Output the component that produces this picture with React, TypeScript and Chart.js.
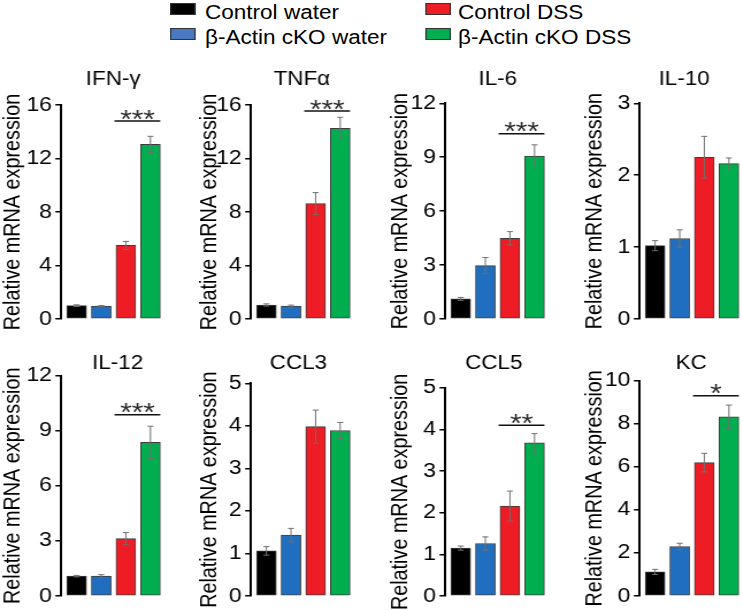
import React, { useEffect, useRef } from "react";
import { Chart, registerables } from "chart.js";
Chart.register(...registerables);

// ---------------- data ----------------
const groups = ["Control water", "β-Actin cKO water", "Control DSS", "β-Actin cKO DSS"];
const genes = ["IFN-γ", "TNFα", "IL-6", "IL-10", "IL-12", "CCL3", "CCL5", "KC"];
const yAxisTitle = "Relative mRNA expression";

const ifngMean = [1.0, 0.97, 5.5, 13.06];
const ifngErr = [0.06, 0.04, 0.3, 0.6];
const tnfaMean = [1.05, 0.96, 8.63, 14.26];
const tnfaErr = [0.08, 0.08, 0.82, 0.82];
const il6Mean = [1.12, 2.97, 4.49, 9.06];
const il6Err = [0.08, 0.45, 0.37, 0.63];
const il10Mean = [1.02, 1.12, 2.25, 2.16];
const il10Err = [0.07, 0.12, 0.29, 0.08];
const il12Mean = [1.08, 1.08, 3.12, 8.36];
const il12Err = [0.04, 0.08, 0.33, 0.88];
const ccl3Mean = [1.06, 1.43, 3.98, 3.89];
const ccl3Err = [0.1, 0.16, 0.39, 0.19];
const ccl5Mean = [1.15, 1.26, 2.16, 3.68];
const ccl5Err = [0.05, 0.16, 0.36, 0.22];
const kcMean = [1.12, 2.3, 6.2, 8.32];
const kcErr = [0.12, 0.15, 0.43, 0.55];

const axisMax = [16, 16, 12, 3, 12, 5, 5, 10];
const axisStep = [4, 4, 3, 1, 3, 1, 1, 2];
const sigLevel: (number | null)[] = [14.8, 15.55, 10.3, null, 9.87, null, 4.1, 9.3];
const sigMarks = ["***", "***", "***", "", "***", "", "**", "*"];

const barColors = ["#000000", "#1f6ebf", "#ee1d25", "#00ae4f"];
const legendColors = ["#000000", "#4a78c2", "#ee1d25", "#00ae4f"];

const means = [ifngMean, tnfaMean, il6Mean, il10Mean, il12Mean, ccl3Mean, ccl5Mean, kcMean];
const errs = [ifngErr, tnfaErr, il6Err, il10Err, il12Err, ccl3Err, ccl5Err, kcErr];

// ---------------- layout ----------------
const S = 1.15; // horizontal stretch of the whole figure
const FONT = '"Liberation Sans", Arial, Helvetica, sans-serif';
const PITCH = 24.6;
const FIRST = 15.5;
const BARW = 19.7;
const AXW = 60;
const AREAW = 101.5;
const BPAD = 11.5;
const colAxis = [61.3, 250.8, 445.5, 639.3];
const rowCanvasTop = [60, 335];
const rowZero = [321.3, 598.3];
const rowTitleBase = [85, 369];
const plotTop = [105, 105, 103.3, 103.3, 375.5, 383.3, 387.8, 380.8];
const yTitleOff = [48, 41, 44, 45];
const titleDx = [1.5, 0.5, 2, -6, 6, -3, -2, 1];

function Panel({ p }: { p: number }) {
  const ref = useRef<HTMLCanvasElement>(null);
  const col = p % 4;
  const row = Math.floor(p / 4);
  const leftF = colAxis[col] - AXW;
  const wPre = Math.round((AXW + AREAW) / S);
  const top = rowCanvasTop[row];
  const h = Math.round(rowZero[row] + BPAD - top);

  useEffect(() => {
    if (!ref.current) return;
    const mean = means[p];
    const err = errs[p];
    const sig = sigLevel[p];
    const marks = sigMarks[p];
    const axPre = AXW / S;
    const areaPre = wPre - axPre;
    const xmin = -FIRST / PITCH;
    const xmax = xmin + (areaPre * S) / PITCH;
    const padTop = plotTop[p] - top;
    const padBottom = h - (rowZero[row] - top);

    const annot = {
      id: "annot" + p,
      afterDatasetsDraw(chart: any) {
        const ctx = chart.ctx as CanvasRenderingContext2D;
        const a = chart.chartArea;
        const xs = chart.scales.x;
        const ys = chart.scales.y;
        const halfBar = BARW / S / 2;
        const cap = 3 / S;
        ctx.save();
        ctx.strokeStyle = "#707070";
        ctx.lineWidth = 1;
        mean.forEach((m, i) => {
          const x = xs.getPixelForValue(i);
          const y1 = ys.getPixelForValue(m + err[i]);
          const y2 = ys.getPixelForValue(m - err[i]);
          ctx.beginPath();
          ctx.moveTo(x, y1);
          ctx.lineTo(x, y2);
          ctx.moveTo(x - cap, y1);
          ctx.lineTo(x + cap, y1);
          ctx.moveTo(x - cap, y2);
          ctx.lineTo(x + cap, y2);
          ctx.stroke();
        });
        if (sig != null) {
          const yL = ys.getPixelForValue(sig);
          const x1 = xs.getPixelForValue(2) - halfBar - 1.5 / S;
          const x2 = xs.getPixelForValue(3) + halfBar;
          ctx.strokeStyle = "#111";
          ctx.lineWidth = 1.5;
          ctx.beginPath();
          ctx.moveTo(x1, yL);
          ctx.lineTo(x2, yL);
          ctx.stroke();
          ctx.fillStyle = "#2a2a2a";
          ctx.font = `26px ${FONT}`;
          ctx.textAlign = "center";
          ctx.textBaseline = "alphabetic";
          const n = marks.length;
          const pitch = 11.5 / S;
          const cx = (x1 + x2) / 2;
          for (let k = 0; k < n; k++) {
            ctx.fillText("*", cx + (k - (n - 1) / 2) * pitch, yL + 6.5);
          }
        }
        ctx.fillStyle = "#000";
        ctx.font = `19.5px ${FONT}`;
        ctx.textAlign = "center";
        ctx.textBaseline = "alphabetic";
        ctx.fillText(genes[p], (a.left + a.right) / 2 + titleDx[p] / S, rowTitleBase[row] - top);
        ctx.save();
        ctx.translate(a.left - yTitleOff[col] / S, (a.top + a.bottom) / 2);
        ctx.rotate(-Math.PI / 2);
        ctx.font = `19.8px ${FONT}`;
        ctx.textBaseline = "middle";
        ctx.fillText(yAxisTitle, 0, 0);
        ctx.restore();
        ctx.restore();
      },
    };

    const chart = new Chart(ref.current, {
      type: "bar",
      data: {
        datasets: [
          {
            label: genes[p],
            data: mean.map((v, i) => ({ x: i, y: v })),
            backgroundColor: barColors,
            borderColor: "#3c3c3c",
            borderWidth: 1,
            borderSkipped: false,
            barThickness: BARW / S,
          } as any,
        ],
      },
      options: {
        animation: false,
        responsive: false,
        devicePixelRatio: 1,
        events: [],
        layout: { padding: { top: padTop, bottom: padBottom, left: 0, right: 0 } },
        plugins: { legend: { display: false }, title: { display: false }, tooltip: { enabled: false } },
        scales: {
          x: { type: "linear", display: false, offset: false, min: xmin, max: xmax, grid: { offset: false } },
          y: {
            type: "linear",
            min: 0,
            max: axisMax[p],
            ticks: { stepSize: axisStep[p], color: "#000", font: { family: FONT, size: 20, lineHeight: 1.1 }, padding: 3 },
            border: { display: true, color: "#000", width: 2 },
            grid: { display: true, drawOnChartArea: false, drawTicks: true, tickLength: 5, color: "#000", lineWidth: 1.5 },
            afterFit: (s: any) => {
              s.width = AXW / S;
            },
          },
        },
      } as any,
      plugins: [annot],
    });
    return () => chart.destroy();
  }, []);

  return (
    <canvas
      ref={ref}
      width={wPre}
      height={h}
      style={{ position: "absolute", left: leftF / S, top, width: wPre, height: h }}
    />
  );
}

const legBoxLeft = [170, 425];
const legTextLeft = [205, 458];
const legBoxTop = [3, 28];
const legTextTop = [2, 27];

export default function App() {
  useEffect(() => {
    document.body.style.overflow = "hidden";
  }, []);
  return (
    <div
      style={{
        position: "absolute",
        left: 0,
        top: 0,
        width: 742 / S,
        height: 610,
        transform: `scaleX(${S})`,
        transformOrigin: "0 0",
        fontFamily: FONT,
        background: "#fff",
      }}
    >
      {groups.map((g, i) => {
        const c = Math.floor(i / 2);
        const r = i % 2;
        return (
          <React.Fragment key={g}>
            <div
              style={{
                position: "absolute",
                left: legBoxLeft[c] / S,
                top: legBoxTop[r],
                width: 26 / S,
                height: 12,
                boxSizing: "border-box",
                background: legendColors[i],
                border: "1px solid #333",
              }}
            />
            <div
              style={{
                position: "absolute",
                left: legTextLeft[c] / S,
                top: legTextTop[r],
                fontSize: 19.6,
                lineHeight: "20px",
                whiteSpace: "nowrap",
                color: "#000",
              }}
            >
              {g}
            </div>
          </React.Fragment>
        );
      })}
      {genes.map((_, p) => (
        <Panel key={p} p={p} />
      ))}
    </div>
  );
}
